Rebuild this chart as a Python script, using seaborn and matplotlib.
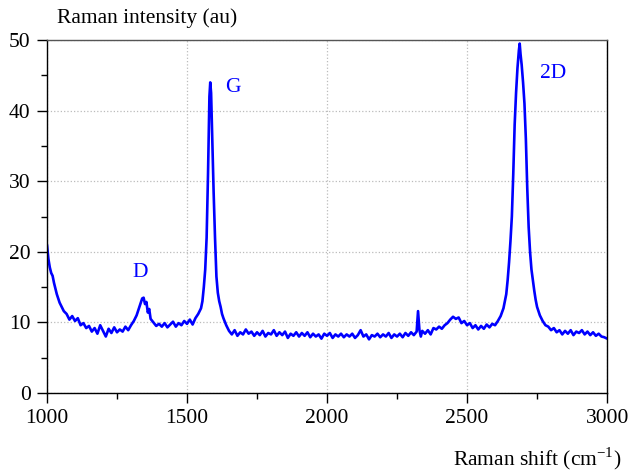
import numpy as np
import pandas as pd
import seaborn as sns
import matplotlib.pyplot as plt

# Raman shift (cm-1) and intensity (au)
shift = [1000, 1005, 1010, 1015, 1020, 1025, 1030, 1035, 1040, 1045, 1050, 1060, 1070, 1080, 1090,
         1100, 1110, 1120, 1130, 1140, 1150, 1160, 1170, 1180, 1190, 1200, 1210, 1220, 1230, 1240,
         1250, 1260, 1270, 1280, 1290, 1300, 1310, 1320, 1330, 1340, 1345, 1350, 1355, 1360, 1365,
         1370, 1380, 1390, 1400, 1410, 1420, 1430, 1440, 1450, 1460, 1470, 1480, 1490, 1500, 1510,
         1520, 1530, 1540, 1550, 1555, 1560, 1565, 1570, 1575, 1580, 1583, 1586, 1590, 1595, 1600,
         1605, 1610, 1615, 1620, 1625, 1630, 1640, 1650, 1660, 1670, 1680, 1690, 1700, 1710, 1720,
         1730, 1740, 1750, 1760, 1770, 1780, 1790, 1800, 1810, 1820, 1830, 1840, 1850, 1860, 1870,
         1880, 1890, 1900, 1910, 1920, 1930, 1940, 1950, 1960, 1970, 1980, 1990, 2000, 2010, 2020,
         2030, 2040, 2050, 2060, 2070, 2080, 2090, 2100, 2110, 2120, 2130, 2140, 2150, 2160, 2170,
         2180, 2190, 2200, 2210, 2220, 2230, 2240, 2250, 2260, 2270, 2280, 2290, 2300, 2310, 2320,
         2325, 2330, 2335, 2340, 2350, 2360, 2370, 2380, 2390, 2400, 2410, 2420, 2430, 2440, 2450,
         2460, 2470, 2480, 2490, 2500, 2510, 2520, 2530, 2540, 2550, 2560, 2570, 2580, 2590, 2600,
         2610, 2620, 2630, 2640, 2645, 2650, 2655, 2660, 2665, 2670, 2675, 2680, 2685, 2688, 2691,
         2695, 2700, 2705, 2710, 2715, 2720, 2725, 2730, 2735, 2740, 2745, 2750, 2760, 2770, 2780,
         2790, 2800, 2810, 2820, 2830, 2840, 2850, 2860, 2870, 2880, 2890, 2900, 2910, 2920, 2930,
         2940, 2950, 2960, 2970, 2980, 2990, 3000]
intensity = [21.0, 19.0, 17.8, 17.0, 16.6, 15.6, 14.8, 14.0, 13.4, 12.8, 12.4, 11.6, 11.2, 10.4, 10.9,
             10.2, 10.6, 9.6, 9.9, 9.2, 9.5, 8.7, 9.2, 8.4, 9.6, 8.8, 8.0, 9.1, 8.5, 9.3,
             8.6, 9.0, 8.7, 9.4, 8.9, 9.6, 10.2, 11.0, 12.2, 13.4, 13.5, 12.6, 12.9, 11.4, 11.9,
             10.5, 10.0, 9.5, 9.8, 9.4, 9.9, 9.3, 9.7, 10.1, 9.4, 9.9, 9.6, 10.2, 9.8, 10.4,
             9.7, 10.6, 11.2, 12.0, 13.0, 15.0, 17.5, 22.0, 31.0, 42.0, 44.0, 42.5, 36.0, 28.5, 22.0,
             16.5, 14.2, 13.0, 12.2, 11.2, 10.6, 9.6, 8.8, 8.3, 8.9, 8.1, 8.6, 8.3, 9.0, 8.4,
             8.7, 8.1, 8.6, 8.2, 8.8, 8.0, 8.5, 8.3, 8.9, 8.1, 8.6, 8.2, 8.7, 7.8, 8.4,
             8.1, 8.6, 8.0, 8.5, 8.1, 8.6, 7.9, 8.4, 8.0, 8.3, 7.7, 8.4, 8.1, 8.5, 7.8,
             8.3, 8.0, 8.4, 7.9, 8.3, 8.0, 8.4, 7.8, 8.2, 8.9, 8.0, 8.3, 7.6, 8.2, 8.0,
             8.4, 7.9, 8.3, 8.0, 8.5, 7.8, 8.3, 8.0, 8.4, 7.9, 8.5, 8.1, 8.6, 8.2, 8.7,
             11.6, 8.9, 8.0, 8.8, 8.4, 8.9, 8.3, 9.2, 9.0, 9.4, 9.1, 9.6, 9.9, 10.4, 10.8,
             10.5, 10.7, 9.9, 10.2, 9.6, 9.9, 9.2, 9.6, 9.0, 9.5, 9.1, 9.7, 9.3, 9.8, 9.6,
             10.2, 10.9, 12.0, 14.0, 16.0, 18.5, 21.5, 25.0, 31.0, 38.0, 42.5, 46.0, 48.5, 49.5, 48.0,
             46.5, 44.0, 41.0, 36.0, 29.0, 23.5, 20.0, 17.5, 16.0, 14.5, 13.2, 12.2, 11.0, 10.2, 9.6,
             9.4, 8.9, 9.2, 8.6, 8.9, 8.3, 8.8, 8.4, 8.9, 8.2, 8.7, 8.5, 8.9, 8.3, 8.7,
             8.2, 8.6, 8.1, 8.4, 8.0, 7.9, 7.7]

peak_names = ['D', 'G', '2D']
peak_x = [1332, 1664, 2807]
peak_y = [17.0, 43.3, 45.2]

df = pd.DataFrame({'shift': shift, 'intensity': intensity})

sns.set_style('ticks')
plt.rcParams['font.family'] = ['Liberation Serif', 'DejaVu Serif']
plt.rcParams['mathtext.fontset'] = 'custom'
plt.rcParams['mathtext.rm'] = 'Liberation Serif'
plt.rcParams['text.color'] = 'black'

fig = plt.figure(figsize=(6.3, 4.71), dpi=100)
ax = fig.add_axes([0.0746, 0.1656, 0.889, 0.7494])

sns.lineplot(data=df, x='shift', y='intensity', color='#0000ff', lw=1.9, ax=ax)

for name, px, py in zip(peak_names, peak_x, peak_y):
    ax.text(px, py, name, color='#0000ff', fontsize=15.5, ha='center', va='center')

ax.set_xlim(1000, 3000)
ax.set_ylim(0, 50)
ax.set_xticks([1000, 1500, 2000, 2500, 3000])
ax.set_xticks([1250, 1750, 2250, 2750], minor=True)
ax.set_yticks([0, 10, 20, 30, 40, 50])
ax.set_yticks([5, 15, 25, 35, 45], minor=True)
ax.tick_params(axis='both', which='major', labelsize=15.5, length=7.2, width=1, direction='out',
               color='black', labelcolor='black', pad=4.5)
ax.tick_params(axis='both', which='minor', length=4.5, width=1, direction='out', color='black')
ax.grid(True, which='major', linestyle=':', color='#bbbbbb', lw=0.9)
for s in ax.spines.values():
    s.set_color('black')
    s.set_linewidth(1)
ax.spines['top'].set_color('#555555')

ax.set_xlabel('')
ax.set_ylabel('')
fig.text(57 / 630, 1 - 18 / 471, 'Raman intensity (au)', fontsize=15.5, ha='left', va='center')
fig.text(621 / 630, 1 - 459 / 471, 'Raman shift (cm$^{\\mathrm{-1}}$)', fontsize=15.5, ha='right', va='center')

fig.savefig('out.png', dpi=100)
